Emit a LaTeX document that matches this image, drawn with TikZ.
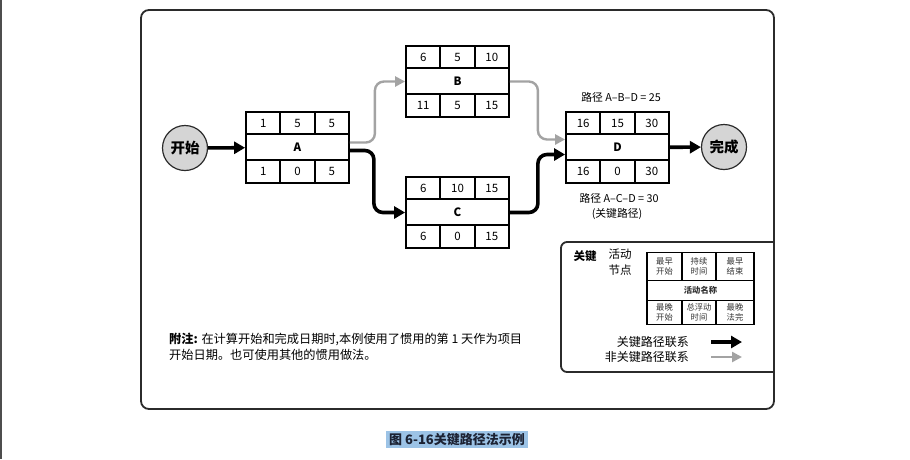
\documentclass[tikz,border=0pt]{standalone}
\usepackage{fontspec}
\setmainfont{Noto Sans CJK SC}
\usetikzlibrary{arrows.meta}

\definecolor{framecol}{HTML}{2B2B2B}
\definecolor{linkgray}{HTML}{A3A3A3}
\definecolor{nodegray}{HTML}{D5D5D5}
\definecolor{hilite}{HTML}{9CC3E6}
\definecolor{captioncol}{HTML}{1C2233}
\definecolor{edgecol}{HTML}{4D4D4D}

\tikzset{
  boxline/.style={draw=black, line width=1.8pt},
  actbox/.style={boxline, rectangle, minimum width=103pt, minimum height=71pt, inner sep=0pt},
  cell/.style={inner sep=0pt, font=\fontsize{11.5}{13}\selectfont},
  cellname/.style={inner sep=0pt, font=\fontsize{11.5}{13}\selectfont\bfseries},
  endpoint/.style={circle, draw=framecol, line width=1.2pt, fill=nodegray, minimum size=45pt,
                   inner sep=0pt, font=\fontsize{14.5}{16}\selectfont\bfseries},
  critlink/.style={draw=black, line width=3.6pt, rounded corners=9pt,
                   -{Triangle[length=11pt,width=12pt]}},
  softlink/.style={draw=linkgray, line width=2.4pt, rounded corners=9pt,
                   -{Triangle[length=10pt,width=10pt]}},
  pathnote/.style={inner sep=0pt, font=\fontsize{10.8}{12}\selectfont},
  keytext/.style={inner sep=0pt, font=\fontsize{8.3}{9.4}\selectfont, text=black!80, align=center},
  frameline/.style={draw=framecol, line width=1.8pt},
}

% activity node: name, centre, ES, DU, EF, label, LS, TF, LF
\newcommand\activity[9]{%
  \begin{scope}[shift={(#2)}]
    \node[actbox] (#1) at (0,0) {};
    \draw[boxline] (-51.5,-13.5) -- (51.5,-13.5) (-51.5,12.5) -- (51.5,12.5)
      (-17.2,-35.5) -- (-17.2,-13.5) (17.2,-35.5) -- (17.2,-13.5)
      (-17.2,12.5) -- (-17.2,35.5) (17.2,12.5) -- (17.2,35.5);
    \node[cell] (#1es) at (-34.3,-24.5) {#3};
    \node[cell] (#1du) at (0,-24.5) {#4};
    \node[cell] (#1ef) at (34.3,-24.5) {#5};
    \node[cellname] (#1nm) at (0,-0.5) {#6};
    \node[cell] (#1ls) at (-34.3,24) {#7};
    \node[cell] (#1tf) at (0,24) {#8};
    \node[cell] (#1lf) at (34.3,24) {#9};
  \end{scope}}

\begin{document}
\begin{tikzpicture}[x=1pt,y=-1pt]
  \useasboundingbox (0,0) rectangle (910,459);
  \fill[white] (0,0) rectangle (910,459);
  \fill[edgecol] (0,0) rectangle (1.6,459);

  % outer frame
  \draw[frameline, rounded corners=8pt] (141,10) rectangle (774,409);

  % start / finish
  \node[endpoint] (start) at (185,148) {开始};
  \node[endpoint] (finish) at (724,147) {完成};

  % activities
  \activity{A}{297.5,147.5}{1}{5}{5}{A}{1}{0}{5}
  \activity{B}{457.5,81.5}{6}{5}{10}{B}{11}{5}{15}
  \activity{C}{457.5,212.5}{6}{10}{15}{C}{6}{0}{15}
  \activity{D}{617.5,147.5}{16}{15}{30}{D}{16}{0}{30}

  % links
  \draw[critlink] (start) -- (A);
  \draw[softlink] ([yshift=5pt]A.east) -- ++(25,0) |- (B.west);
  \draw[critlink] ([yshift=-3pt]A.east) -- ++(24,0) |- (C.west);
  \draw[softlink] (B.east) -- ++(28,0) |- ([yshift=8pt]D.west);
  \draw[critlink] (C.east) -- ++(28,0) |- ([yshift=-7pt]D.west);
  \draw[critlink] (D) -- (finish);

  % path totals
  \node[pathnote] (abd) at (621,97) {路径 A–B–D = 25};
  \node[pathnote] (acd) at (619,198) {路径 A–C–D = 30};
  \node[pathnote] (crit) at (617,213.5) {(关键路径)};

  % legend
  \draw[frameline, rounded corners=6pt] (774,242) -- (561,242) -- (561,372) -- (774,372);
  \node[inner sep=0pt, font=\fontsize{11.5}{12}\selectfont\bfseries] (keyhead) at (585,256) {关键};
  \node[inner sep=0pt, font=\fontsize{11.5}{16}\selectfont, align=center, anchor=north] (keysub) at (620,248.5) {活动\\节点};

  \node[boxline, rectangle, minimum width=107pt, minimum height=72pt, inner sep=0pt] (key) at (700.5,288.5) {};
  \draw[boxline] (647,280.5) -- (754,280.5) (647,300.5) -- (754,300.5)
    (682,252.5) -- (682,280.5) (716,252.5) -- (716,280.5)
    (682,300.5) -- (682,324.5) (716,300.5) -- (716,324.5);
  \node[keytext] (kes) at (664.5,266.5) {最早\\开始};
  \node[keytext] (kdu) at (699,266.5) {持续\\时间};
  \node[keytext] (kef) at (735,266.5) {最早\\结束};
  \node[keytext, font=\fontsize{8.3}{9.4}\selectfont\bfseries] (knm) at (700.5,290.5) {活动名称};
  \node[keytext] (kls) at (664.5,312.5) {最晚\\开始};
  \node[keytext] (ktf) at (699,312.5) {总浮动\\时间};
  \node[keytext] (klf) at (735,312.5) {最晚\\法完};

  \node[inner sep=0pt, anchor=east, font=\fontsize{12}{13}\selectfont] (kcrit) at (689,342) {关键路径联系};
  \node[inner sep=0pt, anchor=east, font=\fontsize{12}{13}\selectfont] (ksoft) at (689,357) {非关键路径联系};
  \coordinate (kc1) at (711,342); \coordinate (kc2) at (742,342);
  \coordinate (ks1) at (711,357); \coordinate (ks2) at (742,357);
  \draw[critlink] (kc1) -- (kc2);
  \draw[softlink] (ks1) -- (ks2);

  % note
  \node[inner sep=0pt, anchor=north west, align=left, font=\fontsize{12.2}{16}\selectfont] (note) at (169,333)
    {\textbf{附注:} 在计算开始和完成日期时,本例使用了惯用的第 1 天作为项目\\开始日期。也可使用其他的惯用做法。};

  % caption
  \fill[hilite] (386,431) rectangle (528,448);
  \node[inner sep=0pt, text=captioncol, font=\fontsize{13}{14}\selectfont\bfseries] (caption) at (457,439.5) {图 6-16关键路径法示例};
\end{tikzpicture}
\end{document}
